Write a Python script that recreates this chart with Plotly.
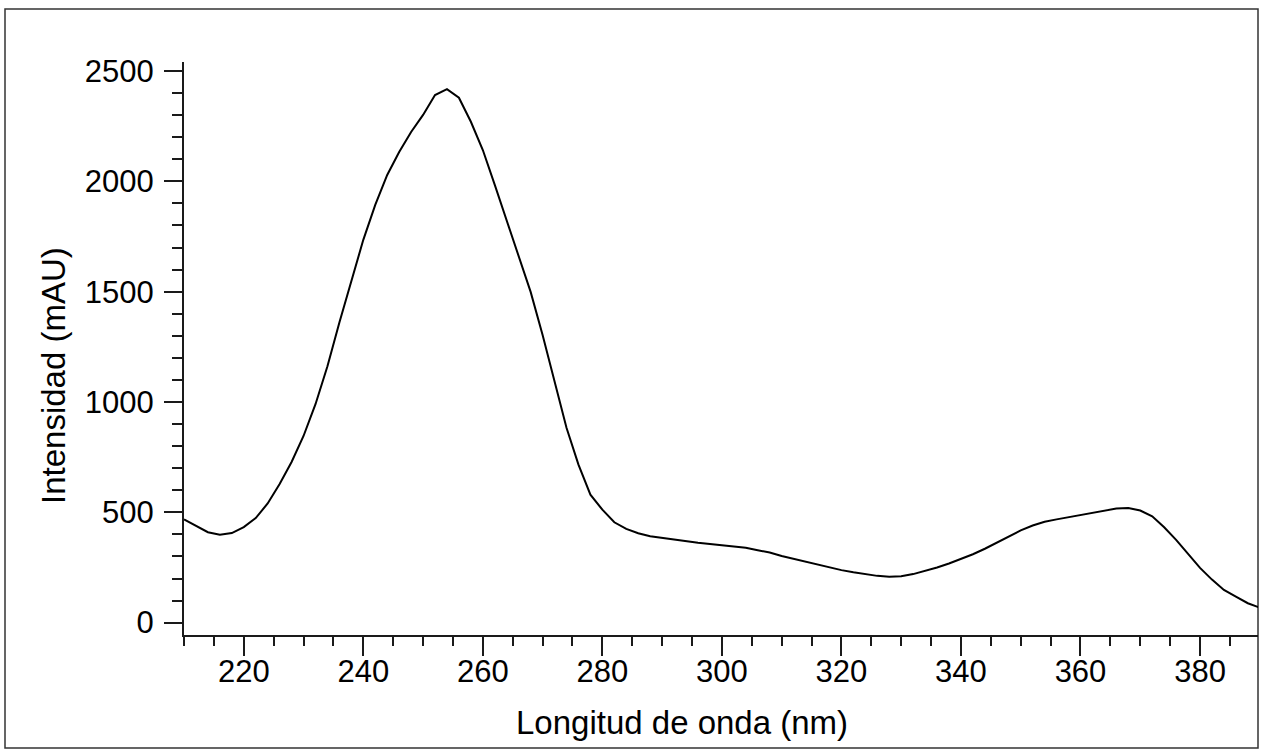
import plotly.graph_objects as go

wavelength = [210, 212, 214, 216, 218, 220, 222, 224, 226, 228,
              230, 232, 234, 236, 238, 240, 242, 244, 246, 248,
              250, 252, 254, 256, 258, 260, 262, 264, 266, 268,
              270, 272, 274, 276, 278, 280, 282, 284, 286, 288,
              290, 292, 294, 296, 298, 300, 302, 304, 306, 308,
              310, 312, 314, 316, 318, 320, 322, 324, 326, 328,
              330, 332, 334, 336, 338, 340, 342, 344, 346, 348,
              350, 352, 354, 356, 358, 360, 362, 364, 366, 368,
              370, 372, 374, 376, 378, 380, 382, 384, 386, 388, 390]
intensity = [468, 438, 410, 398, 406, 433, 474, 540, 628, 728,
             846, 990, 1162, 1360, 1552, 1735, 1893, 2029, 2133, 2224,
             2301, 2391, 2418, 2379, 2270, 2142, 1984, 1825, 1667, 1499,
             1304, 1100, 883, 716, 580, 512, 455, 425, 405, 392,
             384, 376, 369, 362, 356, 351, 346, 339, 328, 318,
             302, 289, 276, 262, 249, 238, 228, 219, 212, 208,
             210, 220, 234, 250, 268, 288, 310, 335, 362, 390,
             418, 440, 457, 468, 478, 487, 497, 508, 517, 520,
             508, 482, 432, 375, 310, 248, 195, 148, 118, 88, 68]

x_title = "Longitud de onda (nm)"
y_title = "Intensidad (mAU)"

FONT = "Liberation Sans, Arial, sans-serif"
AX = "#1a1a1a"

fig = go.Figure()
fig.add_trace(go.Scatter(
    x=wavelength, y=intensity, mode="lines",
    line=dict(color="black", width=2), showlegend=False, hoverinfo="skip"))

# pixel helpers for layout (plot area 184..1258 x 62..635)
L, R, T, B = 184, 1258, 62, 635
def px(xp):
    return (xp - L) / (R - L)
def py(yp):
    return (B - yp) / (B - T)

fig.update_layout(
    width=1261, height=752, autosize=False,
    margin=dict(l=L, r=1261 - R, t=T, b=752 - B, pad=0),
    paper_bgcolor="white", plot_bgcolor="white",
    font=dict(family=FONT, size=31, color="black"),
    xaxis=dict(range=[210, 389.7], showgrid=False, zeroline=False,
               showline=True, linecolor=AX, linewidth=2,
               ticks="outside", ticklen=19, tickwidth=2, tickcolor=AX,
               tick0=0, dtick=20, ticklabelstandoff=-11,
               minor=dict(ticks="outside", ticklen=9, tickwidth=2, tickcolor=AX,
                          tick0=0, dtick=5, showgrid=False),
               tickfont=dict(family=FONT, size=31, color="black")),
    yaxis=dict(range=[-56, 2541], showgrid=False, zeroline=False,
               showline=True, linecolor=AX, linewidth=2,
               ticks="outside", ticklen=18, tickwidth=2, tickcolor=AX,
               tick0=0, dtick=500, ticklabelstandoff=4,
               minor=dict(ticks="outside", ticklen=10, tickwidth=2, tickcolor=AX,
                          tick0=0, dtick=100, showgrid=False),
               tickfont=dict(family=FONT, size=31, color="black")),
    annotations=[
        dict(text=x_title, xref="paper", yref="paper", x=px(682), y=py(722),
             showarrow=False, xanchor="center", yanchor="middle",
             font=dict(family=FONT, size=33, color="black")),
        dict(text=y_title, xref="paper", yref="paper", x=px(53), y=py(376),
             showarrow=False, xanchor="center", yanchor="middle", textangle=-90,
             font=dict(family=FONT, size=33, color="black")),
    ],
    shapes=[dict(type="rect", xref="paper", yref="paper",
                 x0=px(5), x1=px(1258), y0=py(748), y1=py(9),
                 line=dict(color="#333333", width=1.5), layer="below")],
)

fig.write_html("out.html")
